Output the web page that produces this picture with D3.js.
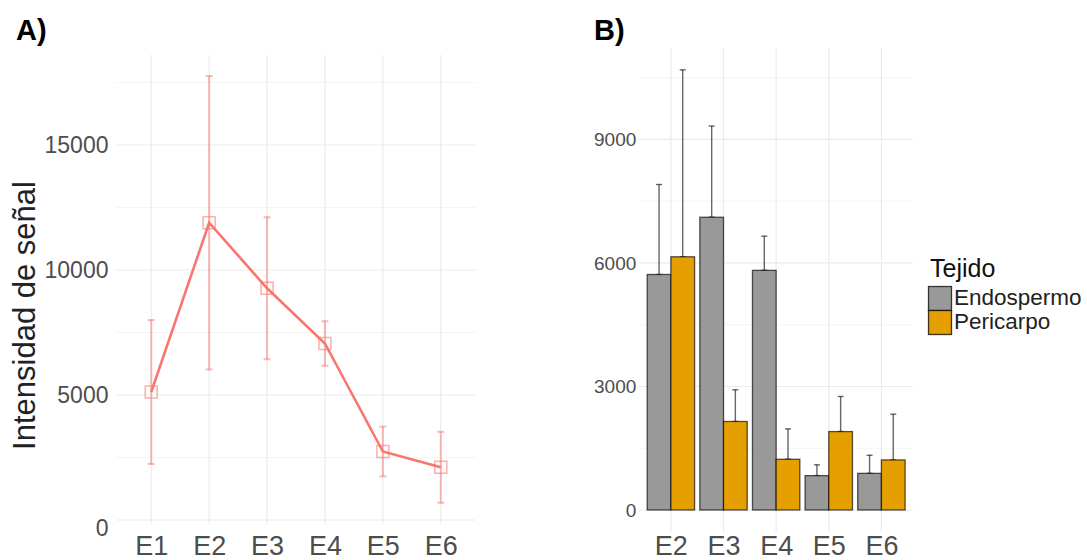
<!DOCTYPE html>
<html>
<head>
<meta charset="utf-8">
<script src="https://cdn.jsdelivr.net/npm/d3@7"></script>
<style>
  html, body { margin: 0; padding: 0; background: #fff; }
  svg { display: block; }
  text { font-family: "Liberation Sans", Arial, sans-serif; }
</style>
</head>
<body>
<svg id="chart" width="1087" height="560"></svg>
<script>
// Panel A: overall signal intensity per stage (mean ± sd)
const stagesA = ["E1", "E2", "E3", "E4", "E5", "E6"];
const meanA = [5120, 11890, 9270, 7060, 2740, 2110];
const sdA = [2880, 5870, 2840, 890, 995, 1420];
const ticksA = [0, 5000, 10000, 15000];
const minorA = [2500, 7500, 12500, 17500];

// Panel B: signal by tissue (mean + sd)
const stagesB = ["E2", "E3", "E4", "E5", "E6"];
const tissues = ["Endospermo", "Pericarpo"];
const endoMean = [5720, 7110, 5820, 835, 890];
const endoSd = [2185, 2215, 830, 262, 440];
const periMean = [6150, 2150, 1232, 1905, 1216];
const periSd = [4540, 770, 738, 852, 1111];
const ticksB = [0, 3000, 6000, 9000];
const minorB = [1500, 4500, 7500, 10500];

const tissueColors = { "Endospermo": "#999999", "Pericarpo": "#E69F00" };
const lineRed = "#F8766D";
const gridMajor = "#EBEBEB";
const gridMinor = "#F4F4F4";
const tickText = "#4D4D4D";
const xLabelBaseline = 554.5;

const svg = d3.select("#chart");
svg.append("rect").attr("width", 1087).attr("height", 560).attr("fill", "#fff");

// ---------- Panel A ----------
const A = { left: 116.5, right: 475.5, top: 55, bottom: 524 };
const xA = d3.scalePoint().domain(stagesA).range([A.left, A.right]).padding(0.6);
const yA = d3.scaleLinear().domain([-160, 18600]).range([A.bottom, A.top]);
const stepA = xA.step();

const gA = svg.append("g");
gA.selectAll("line.minor").data(minorA).join("line")
  .attr("x1", A.left).attr("x2", A.right)
  .attr("y1", d => yA(d)).attr("y2", d => yA(d))
  .attr("stroke", gridMinor).attr("stroke-width", 1);
gA.selectAll("line.major").data(ticksA).join("line")
  .attr("x1", A.left).attr("x2", A.right)
  .attr("y1", d => yA(d)).attr("y2", d => yA(d))
  .attr("stroke", gridMajor).attr("stroke-width", 1.2);
gA.selectAll("line.vgrid").data(stagesA).join("line")
  .attr("x1", d => xA(d)).attr("x2", d => xA(d))
  .attr("y1", A.top).attr("y2", A.bottom)
  .attr("stroke", gridMajor).attr("stroke-width", 1.2);

// y axis labels
const axisLeftA = d3.axisLeft(yA).tickValues(ticksA).tickSize(0).tickPadding(8).tickFormat(d3.format("d"));
const axA = gA.append("g").attr("transform", `translate(${A.left},0)`).call(axisLeftA);
axA.select(".domain").remove();
axA.selectAll("text").attr("font-size", 23).attr("fill", tickText)
  .attr("font-family", "Liberation Sans, Arial, sans-serif");
// the zero label sits a little below its gridline
axA.selectAll(".tick").filter(d => d === 0).select("text").attr("dy", "0.68em");

// x axis labels
const axisBottomA = d3.axisBottom(xA).tickSize(0).tickPadding(0);
const axAx = gA.append("g").attr("transform", `translate(0,${xLabelBaseline})`).call(axisBottomA);
axAx.select(".domain").remove();
axAx.selectAll("text").attr("font-size", 27).attr("fill", tickText).attr("dy", 0)
  .attr("font-family", "Liberation Sans, Arial, sans-serif");

// y title
gA.append("text")
  .attr("transform", `translate(35,${(yA(0) + yA(17000)) / 2 + 8}) rotate(-90)`)
  .attr("text-anchor", "middle")
  .attr("font-size", 31).attr("fill", "#222")
  .text("Intensidad de señal");

// error bars
const rowsA = stagesA.map((s, i) => ({ s, m: meanA[i], sd: sdA[i] }));
const ebA = gA.append("g").attr("stroke", lineRed).attr("stroke-opacity", 0.5).attr("stroke-width", 2);
const capA = stepA * 0.06;
ebA.selectAll("line.v").data(rowsA).join("line")
  .attr("x1", d => xA(d.s)).attr("x2", d => xA(d.s))
  .attr("y1", d => yA(d.m - d.sd)).attr("y2", d => yA(d.m + d.sd));
ebA.selectAll("line.t").data(rowsA).join("line")
  .attr("x1", d => xA(d.s) - capA).attr("x2", d => xA(d.s) + capA)
  .attr("y1", d => yA(d.m + d.sd)).attr("y2", d => yA(d.m + d.sd));
ebA.selectAll("line.b").data(rowsA).join("line")
  .attr("x1", d => xA(d.s) - capA).attr("x2", d => xA(d.s) + capA)
  .attr("y1", d => yA(d.m - d.sd)).attr("y2", d => yA(d.m - d.sd));

// line
gA.append("path").datum(rowsA)
  .attr("fill", "none").attr("stroke", lineRed).attr("stroke-width", 2.6)
  .attr("d", d3.line().x(d => xA(d.s)).y(d => yA(d.m)));

// open square points
const sq = 12;
gA.selectAll("rect.pt").data(rowsA).join("rect")
  .attr("x", d => xA(d.s) - sq / 2).attr("y", d => yA(d.m) - sq / 2)
  .attr("width", sq).attr("height", sq)
  .attr("fill", "none").attr("stroke", lineRed).attr("stroke-opacity", 0.55).attr("stroke-width", 1.6);

// panel tag
svg.append("text").attr("x", 16).attr("y", 40).attr("font-size", 29).attr("font-weight", "bold")
  .attr("fill", "#000").text("A)");

// ---------- Panel B ----------
const B = { left: 639.3, right: 913, top: 48, bottom: 532 };
const xB = d3.scalePoint().domain(stagesB).range([B.left, B.right]).padding(0.6);
const stepB = xB.step();
const xT = d3.scaleBand().domain(tissues).range([-0.45 * stepB, 0.45 * stepB]).padding(0);
const yB = d3.scaleLinear().domain([-534, 11220]).range([B.bottom, B.top]);

const gB = svg.append("g");
gB.selectAll("line.minor").data(minorB).join("line")
  .attr("x1", B.left).attr("x2", B.right)
  .attr("y1", d => yB(d)).attr("y2", d => yB(d))
  .attr("stroke", gridMinor).attr("stroke-width", 1);
gB.selectAll("line.major").data(ticksB).join("line")
  .attr("x1", B.left).attr("x2", B.right)
  .attr("y1", d => yB(d)).attr("y2", d => yB(d))
  .attr("stroke", gridMajor).attr("stroke-width", 1.2);
gB.selectAll("line.vgrid").data(stagesB).join("line")
  .attr("x1", d => xB(d)).attr("x2", d => xB(d))
  .attr("y1", B.top).attr("y2", B.bottom)
  .attr("stroke", gridMajor).attr("stroke-width", 1.2);

const axisLeftB = d3.axisLeft(yB).tickValues(ticksB).tickSize(0).tickPadding(3).tickFormat(d3.format("d"));
const axB = gB.append("g").attr("transform", `translate(${B.left},0)`).call(axisLeftB);
axB.select(".domain").remove();
axB.selectAll("text").attr("font-size", 19).attr("fill", tickText)
  .attr("font-family", "Liberation Sans, Arial, sans-serif");

const axisBottomB = d3.axisBottom(xB).tickSize(0).tickPadding(0);
const axBx = gB.append("g").attr("transform", `translate(0,${xLabelBaseline})`).call(axisBottomB);
axBx.select(".domain").remove();
axBx.selectAll("text").attr("font-size", 27).attr("fill", tickText).attr("dy", 0)
  .attr("font-family", "Liberation Sans, Arial, sans-serif");

const rowsB = [];
stagesB.forEach((s, i) => {
  rowsB.push({ s, t: "Endospermo", m: endoMean[i], sd: endoSd[i] });
  rowsB.push({ s, t: "Pericarpo", m: periMean[i], sd: periSd[i] });
});

// error bars (upper half) drawn under bars
const capB = 3;
const ebB = gB.append("g").attr("stroke", "#000").attr("stroke-opacity", 0.6).attr("stroke-width", 1.4);
const cx = d => xB(d.s) + xT(d.t) + xT.bandwidth() / 2;
ebB.selectAll("line.v").data(rowsB).join("line")
  .attr("x1", cx).attr("x2", cx)
  .attr("y1", d => yB(d.m)).attr("y2", d => yB(d.m + d.sd));
ebB.selectAll("line.t").data(rowsB).join("line")
  .attr("x1", d => cx(d) - capB).attr("x2", d => cx(d) + capB)
  .attr("y1", d => yB(d.m + d.sd)).attr("y2", d => yB(d.m + d.sd));

gB.selectAll("rect.bar").data(rowsB).join("rect")
  .attr("x", d => xB(d.s) + xT(d.t))
  .attr("y", d => yB(d.m))
  .attr("width", xT.bandwidth())
  .attr("height", d => yB(0) - yB(d.m))
  .attr("fill", d => tissueColors[d.t])
  .attr("stroke", "#000").attr("stroke-opacity", 0.65).attr("stroke-width", 1.3);

// caps at bar tops
ebB.selectAll("line.b").data(rowsB).join("line")
  .attr("x1", d => cx(d) - capB).attr("x2", d => cx(d) + capB)
  .attr("y1", d => yB(d.m)).attr("y2", d => yB(d.m));

svg.append("text").attr("x", 594).attr("y", 40).attr("font-size", 29).attr("font-weight", "bold")
  .attr("fill", "#000").text("B)");

// legend
const lg = svg.append("g").attr("transform", "translate(928,0)");
lg.append("text").attr("x", 2).attr("y", 277).attr("font-size", 25).attr("fill", "#111").text("Tejido");
const keyH = 24;
tissues.forEach((t, i) => {
  const y0 = 286.5 + i * keyH;
  lg.append("rect").attr("x", 0.5).attr("y", y0).attr("width", 23).attr("height", keyH)
    .attr("fill", tissueColors[t]).attr("stroke", "#000").attr("stroke-opacity", 0.75).attr("stroke-width", 1.3);
  lg.append("text").attr("x", 26).attr("y", y0 + 18.5).attr("font-size", 22.5).attr("fill", "#222").text(t);
});
</script>
</body>
</html>
